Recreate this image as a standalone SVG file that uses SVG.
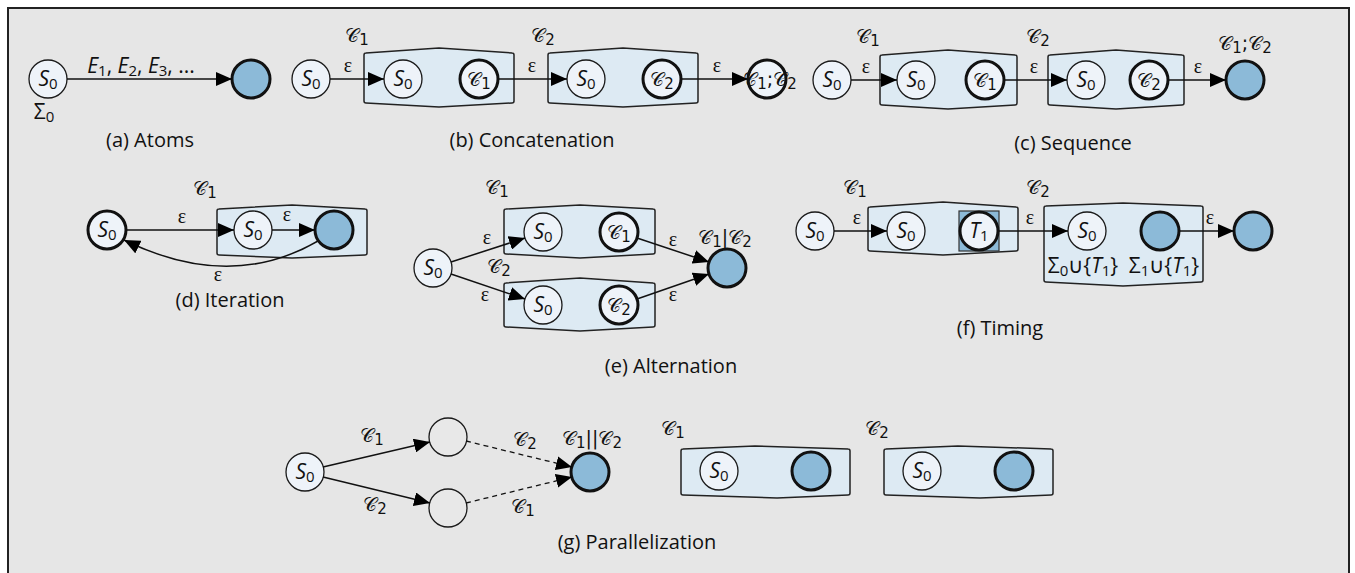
<svg xmlns="http://www.w3.org/2000/svg" width="1355" height="573" viewBox="0 0 1355 573">
<style>
.n{fill:#eef3f9;stroke:#1a1a1a;stroke-width:1.3}
.nt{fill:#eef3f9;stroke:#111;stroke-width:3}
.b{fill:#8cbad8;stroke:#111;stroke-width:3}
.e{fill:none;stroke:#111;stroke-width:1.5}
.d{fill:none;stroke:#111;stroke-width:1.3;stroke-dasharray:5 4}
.box{fill:#ddeaf3;stroke:#222;stroke-width:1.5;stroke-linejoin:round}
text{font-family:"Open Sans","Noto Sans",sans-serif;fill:#111}
.cap{font-size:20px;text-anchor:middle}
.lb{font-size:21px;text-anchor:middle}
.it{font-style:italic}
.sb{font-size:15px}
.ep{font-family:"Liberation Serif","DejaVu Serif",serif;font-size:20px;text-anchor:middle}
.cl{font-family:"DejaVu Sans","Noto Sans",sans-serif;font-size:19px;text-anchor:middle}
</style>
<defs>
<marker id="ah" markerWidth="16" markerHeight="14" refX="16" refY="7" orient="auto" markerUnits="userSpaceOnUse"><path d="M0,0 L16,7 L0,14 z" fill="#000"/></marker>
</defs>
<rect x="8" y="8" width="1341" height="580" fill="#e6e6e6" stroke="#222" stroke-width="2"/>

<g id="a-atoms">
<circle class="n" cx="48" cy="79" r="19"/>
<text class="lb" x="48" y="86"><tspan class="it">S</tspan><tspan class="sb" dy="3">0</tspan></text>
<circle class="b" cx="251" cy="79" r="19"/>
<text class="lb" x="141" y="73"><tspan class="it">E</tspan><tspan class="sb" dy="3">1</tspan><tspan dy="-3">, </tspan><tspan class="it">E</tspan><tspan class="sb" dy="3">2</tspan><tspan dy="-3">, </tspan><tspan class="it">E</tspan><tspan class="sb" dy="3">3</tspan><tspan dy="-3">, ...</tspan></text>
<text class="lb" x="44" y="119">Σ<tspan class="sb" dy="3">0</tspan></text>
<text class="cap" x="150" y="147">(a) Atoms</text>
</g>

<g id="b-concatenation">
<circle class="n" cx="311" cy="79" r="19"/>
<text class="lb" x="311" y="86"><tspan class="it">S</tspan><tspan class="sb" dy="3">0</tspan></text>
<path class="box" d="M364,55 Q364,53 366,53 L439,48 L512,53 Q514,53 514,55 L514,101 Q514,103 512,103 L439,107 L366,103 Q364,103 364,101 Z"/>
<circle class="n" cx="403" cy="79" r="19"/>
<text class="lb" x="403" y="86"><tspan class="it">S</tspan><tspan class="sb" dy="3">0</tspan></text>
<circle class="nt" cx="479" cy="79" r="19"/>
<text class="cl" x="479" y="86">𝒞<tspan class="sb" dy="3">1</tspan></text>
<path class="box" d="M548,55 Q548,53 550,53 L623,48 L696,53 Q698,53 698,55 L698,101 Q698,103 696,103 L623,107 L550,103 Q548,103 548,101 Z"/>
<circle class="n" cx="586" cy="79" r="19"/>
<text class="lb" x="586" y="86"><tspan class="it">S</tspan><tspan class="sb" dy="3">0</tspan></text>
<circle class="nt" cx="662" cy="79" r="19"/>
<text class="cl" x="662" y="86">𝒞<tspan class="sb" dy="3">2</tspan></text>
<circle class="nt" cx="767" cy="79" r="19"/>
<text class="cl" x="770" y="86">𝒞<tspan class="sb" dy="3">1</tspan><tspan dy="-3">;𝒞</tspan><tspan class="sb" dy="3">2</tspan></text>
<text class="ep" x="348" y="72">ε</text>
<text class="ep" x="532" y="72">ε</text>
<text class="ep" x="717" y="72">ε</text>
<text class="cl" x="357" y="42">𝒞<tspan class="sb" dy="3">1</tspan></text>
<text class="cl" x="543" y="42">𝒞<tspan class="sb" dy="3">2</tspan></text>
<text class="cap" x="532" y="147">(b) Concatenation</text>
</g>

<g id="c-sequence">
<circle class="n" cx="832" cy="80" r="19"/>
<text class="lb" x="832" y="87"><tspan class="it">S</tspan><tspan class="sb" dy="3">0</tspan></text>
<path class="box" d="M880,57 Q880,55 882,55 L948,50 L1015,55 Q1017,55 1017,57 L1017,103 Q1017,105 1015,105 L948,109 L882,105 Q880,105 880,103 Z"/>
<circle class="n" cx="916" cy="80" r="19"/>
<text class="lb" x="916" y="87"><tspan class="it">S</tspan><tspan class="sb" dy="3">0</tspan></text>
<circle class="nt" cx="985" cy="80" r="19"/>
<text class="cl" x="985" y="87">𝒞<tspan class="sb" dy="3">1</tspan></text>
<path class="box" d="M1048,57 Q1048,55 1050,55 L1116,50 L1182,55 Q1184,55 1184,57 L1184,103 Q1184,105 1182,105 L1116,109 L1050,105 Q1048,105 1048,103 Z"/>
<circle class="n" cx="1086" cy="80" r="19"/>
<text class="lb" x="1086" y="87"><tspan class="it">S</tspan><tspan class="sb" dy="3">0</tspan></text>
<circle class="nt" cx="1149" cy="80" r="19"/>
<text class="cl" x="1149" y="87">𝒞<tspan class="sb" dy="3">2</tspan></text>
<circle class="b" cx="1245" cy="80" r="19"/>
<text class="ep" x="866" y="73">ε</text>
<text class="ep" x="1034" y="73">ε</text>
<text class="ep" x="1198" y="73">ε</text>
<text class="cl" x="868" y="43">𝒞<tspan class="sb" dy="3">1</tspan></text>
<text class="cl" x="1038" y="43">𝒞<tspan class="sb" dy="3">2</tspan></text>
<text class="cl" x="1245" y="50">𝒞<tspan class="sb" dy="3">1</tspan><tspan dy="-3">;𝒞</tspan><tspan class="sb" dy="3">2</tspan></text>
<text class="cap" x="1073" y="150">(c) Sequence</text>
</g>

<g id="d-iteration">
<circle class="nt" cx="107" cy="230" r="19"/>
<text class="lb" x="107" y="237"><tspan class="it">S</tspan><tspan class="sb" dy="3">0</tspan></text>
<path class="box" d="M217,211 Q217,209 219,209 L292,205 L365,209 Q367,209 367,211 L367,253 Q367,255 365,255 L292,258 L219,255 Q217,255 217,253 Z"/>
<circle class="n" cx="253" cy="230" r="19"/>
<text class="lb" x="253" y="237"><tspan class="it">S</tspan><tspan class="sb" dy="3">0</tspan></text>
<circle class="b" cx="334" cy="230" r="19"/>
<text class="ep" x="182" y="223">ε</text>
<text class="ep" x="287" y="221">ε</text>
<text class="ep" x="218" y="281">ε</text>
<text class="cl" x="205" y="195">𝒞<tspan class="sb" dy="3">1</tspan></text>
<text class="cap" x="230" y="307">(d) Iteration</text>
</g>

<g id="e-alternation">
<circle class="n" cx="433" cy="268" r="19"/>
<text class="lb" x="433" y="275"><tspan class="it">S</tspan><tspan class="sb" dy="3">0</tspan></text>
<path class="box" d="M504,211 Q504,209 506,209 L580,205 L653,209 Q655,209 655,211 L655,252 Q655,254 653,254 L580,258 L506,254 Q504,254 504,252 Z"/>
<circle class="n" cx="543" cy="232" r="19"/>
<text class="lb" x="543" y="239"><tspan class="it">S</tspan><tspan class="sb" dy="3">0</tspan></text>
<circle class="nt" cx="619" cy="232" r="19"/>
<text class="cl" x="619" y="239">𝒞<tspan class="sb" dy="3">1</tspan></text>
<path class="box" d="M504,285 Q504,283 506,283 L580,278 L653,283 Q655,283 655,285 L655,325 Q655,327 653,327 L580,331 L506,327 Q504,327 504,325 Z"/>
<circle class="n" cx="543" cy="305" r="19"/>
<text class="lb" x="543" y="312"><tspan class="it">S</tspan><tspan class="sb" dy="3">0</tspan></text>
<circle class="nt" cx="619" cy="305" r="19"/>
<text class="cl" x="619" y="312">𝒞<tspan class="sb" dy="3">2</tspan></text>
<circle class="b" cx="727" cy="268" r="19"/>
<text class="ep" x="487" y="244">ε</text>
<text class="ep" x="485" y="301">ε</text>
<text class="ep" x="673" y="246">ε</text>
<text class="ep" x="673" y="301">ε</text>
<text class="cl" x="497" y="194">𝒞<tspan class="sb" dy="3">1</tspan></text>
<text class="cl" x="499" y="273">𝒞<tspan class="sb" dy="3">2</tspan></text>
<text class="cl" x="725" y="244">𝒞<tspan class="sb" dy="3">1</tspan><tspan dy="-3">|𝒞</tspan><tspan class="sb" dy="3">2</tspan></text>
<text class="cap" x="671" y="373">(e) Alternation</text>
</g>

<g id="f-timing">
<circle class="n" cx="815" cy="231" r="19"/>
<text class="lb" x="815" y="238"><tspan class="it">S</tspan><tspan class="sb" dy="3">0</tspan></text>
<path class="box" d="M868,209 Q868,207 870,207 L943,202 L1016,207 Q1018,207 1018,209 L1018,249 Q1018,251 1016,251 L943,255 L870,251 Q868,251 868,249 Z"/>
<circle class="n" cx="906" cy="231" r="19"/>
<text class="lb" x="906" y="238"><tspan class="it">S</tspan><tspan class="sb" dy="3">0</tspan></text>
<rect x="959" y="211" width="40" height="40" fill="#8cbad8" stroke="#333" stroke-width="1.2"/>
<circle class="nt" cx="979" cy="231" r="19"/>
<text class="lb" x="979" y="238"><tspan class="it">T</tspan><tspan class="sb" dy="3">1</tspan></text>
<path class="box" d="M1044,208 Q1044,206 1046,206 L1123,203 L1201,206 Q1203,206 1203,208 L1203,280 Q1203,282 1201,282 L1123,286 L1046,282 Q1044,282 1044,280 Z"/>
<circle class="n" cx="1087" cy="231" r="19"/>
<text class="lb" x="1087" y="238"><tspan class="it">S</tspan><tspan class="sb" dy="3">0</tspan></text>
<circle class="b" cx="1160" cy="231" r="19"/>
<circle class="b" cx="1253" cy="231" r="19"/>
<text class="lb" x="1083" y="273">Σ<tspan class="sb" dy="3">0</tspan><tspan dy="-3">∪{</tspan><tspan class="it">T</tspan><tspan class="sb" dy="3">1</tspan><tspan dy="-3">}</tspan></text>
<text class="lb" x="1164" y="273">Σ<tspan class="sb" dy="3">1</tspan><tspan dy="-3">∪{</tspan><tspan class="it">T</tspan><tspan class="sb" dy="3">1</tspan><tspan dy="-3">}</tspan></text>
<text class="ep" x="857" y="224">ε</text>
<text class="ep" x="1030" y="224">ε</text>
<text class="ep" x="1210" y="224">ε</text>
<text class="cl" x="855" y="194">𝒞<tspan class="sb" dy="3">1</tspan></text>
<text class="cl" x="1038" y="194">𝒞<tspan class="sb" dy="3">2</tspan></text>
<text class="cap" x="1000" y="335">(f) Timing</text>
</g>

<g id="g-parallelization">
<circle class="n" cx="305" cy="472" r="19"/>
<text class="lb" x="305" y="479"><tspan class="it">S</tspan><tspan class="sb" dy="3">0</tspan></text>
<circle cx="448" cy="437" r="19" fill="#e8e8e8" stroke="#1a1a1a" stroke-width="1.3"/>
<circle cx="448" cy="508" r="19" fill="#e8e8e8" stroke="#1a1a1a" stroke-width="1.3"/>
<circle class="b" cx="590" cy="472" r="19"/>
<text class="cl" x="372" y="442">𝒞<tspan class="sb" dy="3">1</tspan></text>
<text class="cl" x="375" y="511">𝒞<tspan class="sb" dy="3">2</tspan></text>
<text class="cl" x="525" y="446">𝒞<tspan class="sb" dy="3">2</tspan></text>
<text class="cl" x="523" y="513">𝒞<tspan class="sb" dy="3">1</tspan></text>
<text class="cl" x="592" y="445">𝒞<tspan class="sb" dy="3">1</tspan><tspan dy="-3">||𝒞</tspan><tspan class="sb" dy="3">2</tspan></text>
<path class="box" d="M681,451 Q681,449 683,449 L755,446 L848,449 Q850,449 850,451 L850,493 Q850,495 848,495 L777,498 L683,495 Q681,495 681,493 Z"/>
<circle class="n" cx="719" cy="471" r="19"/>
<text class="lb" x="719" y="478"><tspan class="it">S</tspan><tspan class="sb" dy="3">0</tspan></text>
<circle class="b" cx="811" cy="471" r="19"/>
<path class="box" d="M884,451 Q884,449 886,449 L958,446 L1051,449 Q1053,449 1053,451 L1053,493 Q1053,495 1051,495 L980,498 L886,495 Q884,495 884,493 Z"/>
<circle class="n" cx="922" cy="471" r="19"/>
<text class="lb" x="922" y="478"><tspan class="it">S</tspan><tspan class="sb" dy="3">0</tspan></text>
<circle class="b" cx="1014" cy="471" r="19"/>
<text class="cl" x="673" y="435">𝒞<tspan class="sb" dy="3">1</tspan></text>
<text class="cl" x="877" y="435">𝒞<tspan class="sb" dy="3">2</tspan></text>
<text class="cap" x="637" y="549">(g) Parallelization</text>
</g>

<g id="connectors">
<line class="e" x1="67" y1="79" x2="232" y2="79" marker-end="url(#ah)"/>
<line class="e" x1="330" y1="79" x2="384" y2="79" marker-end="url(#ah)"/>
<line class="e" x1="498" y1="79" x2="567" y2="79" marker-end="url(#ah)"/>
<line class="e" x1="681" y1="79" x2="748" y2="79" marker-end="url(#ah)"/>
<line class="e" x1="851" y1="80" x2="897" y2="80" marker-end="url(#ah)"/>
<line class="e" x1="1004" y1="80" x2="1067" y2="80" marker-end="url(#ah)"/>
<line class="e" x1="1168" y1="80" x2="1226" y2="80" marker-end="url(#ah)"/>
<line class="e" x1="126" y1="230" x2="234" y2="230" marker-end="url(#ah)"/>
<line class="e" x1="272" y1="230" x2="315" y2="230" marker-end="url(#ah)"/>
<path class="e" d="M318,241 Q230,292 124,240" marker-end="url(#ah)"/>
<line class="e" x1="451" y1="262" x2="525" y2="238" marker-end="url(#ah)"/>
<line class="e" x1="451" y1="274" x2="525" y2="299" marker-end="url(#ah)"/>
<line class="e" x1="637" y1="238" x2="709" y2="262" marker-end="url(#ah)"/>
<line class="e" x1="637" y1="299" x2="709" y2="274" marker-end="url(#ah)"/>
<line class="e" x1="834" y1="231" x2="887" y2="231" marker-end="url(#ah)"/>
<line class="e" x1="998" y1="231" x2="1068" y2="231" marker-end="url(#ah)"/>
<line class="e" x1="1179" y1="231" x2="1234" y2="231" marker-end="url(#ah)"/>
<line class="e" x1="323" y1="467" x2="430" y2="442" marker-end="url(#ah)"/>
<line class="e" x1="323" y1="477" x2="430" y2="503" marker-end="url(#ah)"/>
<line class="d" x1="466" y1="441" x2="572" y2="467" marker-end="url(#ah)"/>
<line class="d" x1="466" y1="503" x2="572" y2="477" marker-end="url(#ah)"/>
</g>
</svg>
